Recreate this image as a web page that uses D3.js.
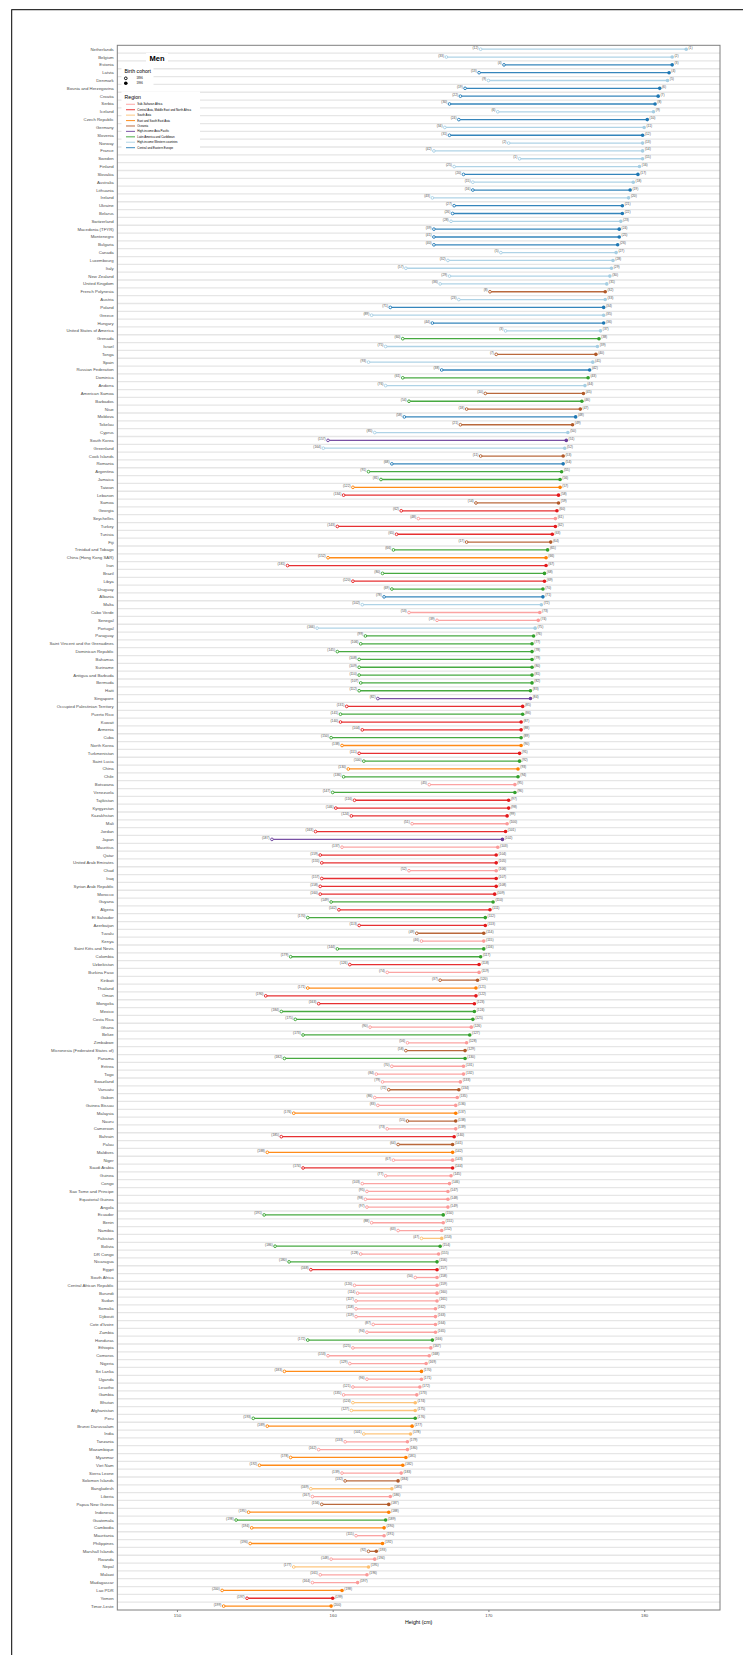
<!DOCTYPE html>
<html>
<head>
<meta charset="utf-8">
<script src="https://cdn.jsdelivr.net/npm/d3@7"></script>
<style>
  html, body { margin: 0; padding: 0; background: #fff; }
  svg { display: block; font-family: "Liberation Sans", Arial, sans-serif; }
</style>
</head>
<body>
<svg id="chart" width="743" height="1655"></svg>
<script>
// ---------- DATA ----------
const countries = [
"Netherlands","Belgium","Estonia","Latvia","Denmark","Bosnia and Herzegovina","Croatia","Serbia","Iceland","Czech Republic",
"Germany","Slovenia","Norway","France","Sweden","Finland","Slovakia","Australia","Lithuania","Ireland",
"Ukraine","Belarus","Switzerland","Macedonia (TFYR)","Montenegro","Bulgaria","Canada","Luxembourg","Italy","New Zealand",
"United Kingdom","French Polynesia","Austria","Poland","Greece","Hungary","United States of America","Grenada","Israel","Tonga",
"Spain","Russian Federation","Dominica","Andorra","American Samoa","Barbados","Niue","Moldova","Tokelau","Cyprus",
"South Korea","Greenland","Cook Islands","Romania","Argentina","Jamaica","Taiwan","Lebanon","Samoa","Georgia",
"Seychelles","Turkey","Tunisia","Fiji","Trinidad and Tobago","China (Hong Kong SAR)","Iran","Brazil","Libya","Uruguay",
"Albania","Malta","Cabo Verde","Senegal","Portugal","Paraguay","Saint Vincent and the Grenadines","Dominican Republic","Bahamas","Suriname",
"Antigua and Barbuda","Bermuda","Haiti","Singapore","Occupied Palestinian Territory","Puerto Rico","Kuwait","Armenia","Cuba","North Korea",
"Turkmenistan","Saint Lucia","China","Chile","Botswana","Venezuela","Tajikistan","Kyrgyzstan","Kazakhstan","Mali",
"Jordan","Japan","Mauritius","Qatar","United Arab Emirates","Chad","Iraq","Syrian Arab Republic","Morocco","Guyana",
"Algeria","El Salvador","Azerbaijan","Tuvalu","Kenya","Saint Kitts and Nevis","Colombia","Uzbekistan","Burkina Faso","Kiribati",
"Thailand","Oman","Mongolia","Mexico","Costa Rica","Ghana","Belize","Zimbabwe","Micronesia (Federated States of)","Panama",
"Eritrea","Togo","Swaziland","Vanuatu","Gabon","Guinea Bissau","Malaysia","Nauru","Cameroon","Bahrain",
"Palau","Maldives","Niger","Saudi Arabia","Guinea","Congo","Sao Tome and Principe","Equatorial Guinea","Angola","Ecuador",
"Benin","Namibia","Pakistan","Bolivia","DR Congo","Nicaragua","Egypt","South Africa","Central African Republic","Burundi",
"Sudan","Somalia","Djibouti","Cote d'Ivoire","Zambia","Honduras","Ethiopia","Comoros","Nigeria","Sri Lanka",
"Uganda","Lesotho","Gambia","Bhutan","Afghanistan","Peru","Brunei Darussalam","India","Tanzania","Mozambique",
"Myanmar","Viet Nam","Sierra Leone","Solomon Islands","Bangladesh","Liberia","Papua New Guinea","Indonesia","Guatemala","Cambodia",
"Mauritania","Philippines","Marshall Islands","Rwanda","Nepal","Malawi","Madagascar","Lao PDR","Yemen","Timor-Leste"
];

const regionOfCountry = [
"W","W","E","E","W","E","E","E","W","E",
"W","E","W","W","W","W","E","W","E","W",
"E","E","W","E","E","E","W","W","W","W",
"W","O","W","E","W","E","W","L","W","O",
"W","E","L","W","O","L","O","E","O","W",
"A","W","O","E","L","L","EA","M","O","M",
"S","M","M","O","L","EA","M","L","M","L",
"E","W","S","S","W","L","L","L","L","L",
"L","L","L","A","M","L","M","M","L","EA",
"M","L","EA","L","S","L","M","M","M","S",
"M","A","S","M","M","S","M","M","M","L",
"M","L","M","O","S","L","L","M","S","O",
"EA","M","M","L","L","S","L","S","O","L",
"S","S","S","O","S","S","EA","O","S","M",
"O","EA","S","M","S","S","S","S","S","L",
"S","S","SA","L","S","L","M","S","S","S",
"S","S","S","S","S","L","S","S","S","EA",
"S","S","S","SA","SA","L","EA","SA","S","S",
"EA","EA","S","O","SA","S","O","EA","L","EA",
"S","EA","O","S","SA","S","S","EA","M","EA"
];

// Height (cm), men born in 1896
const height1896 = [
169.5,167.3,171.0,169.4,170.0,168.5,168.2,167.5,170.6,168.1,
167.2,167.5,171.3,166.5,172.0,167.8,168.4,169.0,169.0,166.4,
167.8,167.7,167.6,166.5,166.5,166.5,170.8,167.4,164.7,167.5,
166.9,170.1,168.1,163.7,162.5,166.4,171.1,164.5,163.4,170.5,
162.3,167.0,164.5,163.4,169.8,164.9,168.6,164.6,168.2,162.7,
159.7,159.4,169.5,163.8,162.3,163.1,161.3,160.7,169.2,164.4,
165.5,160.3,164.1,168.6,163.9,159.7,157.1,163.2,161.3,163.8,
163.3,161.9,164.9,166.7,159.0,162.1,161.8,160.3,161.7,161.7,
161.7,161.8,161.7,162.9,160.9,160.5,160.5,161.9,159.9,160.6,
161.7,162.0,161.0,160.7,166.2,160.0,161.4,160.2,161.2,165.1,
158.9,156.1,160.6,159.2,159.3,164.9,159.3,159.2,159.2,159.9,
160.4,158.4,161.7,165.4,165.7,160.3,157.3,161.1,163.5,166.9,
158.4,155.7,159.1,156.7,157.6,162.4,158.1,164.8,164.7,156.9,
163.8,162.8,163.2,163.6,162.7,162.9,157.5,164.8,163.5,156.7,
164.2,155.8,163.9,158.1,163.4,161.9,162.2,162.1,162.2,155.6,
162.5,164.2,165.7,156.3,161.8,157.2,158.6,165.3,161.4,161.6,
161.5,161.5,161.5,162.6,162.2,158.4,161.3,159.7,161.1,156.9,
162.2,161.3,160.7,161.3,161.2,154.9,155.8,162.0,160.8,159.1,
157.3,155.3,160.6,160.8,158.6,158.7,159.3,154.6,153.8,154.8,
161.5,154.7,162.3,159.9,157.5,159.2,158.7,152.9,154.5,153.0
];

// Height (cm), men born in 1996
const height1996 = [
182.7,181.8,181.8,181.6,181.5,181.0,180.9,180.7,180.6,180.2,
180.0,179.9,179.9,179.9,179.9,179.7,179.6,179.3,179.1,179.0,
178.6,178.6,178.5,178.4,178.4,178.3,178.2,178.0,177.9,177.8,
177.6,177.5,177.5,177.4,177.4,177.4,177.2,177.1,177.0,176.9,
176.7,176.5,176.4,176.2,176.1,176.0,175.9,175.6,175.4,175.1,
175.0,174.9,174.8,174.8,174.7,174.6,174.6,174.5,174.5,174.4,
174.3,174.3,174.1,174.0,173.8,173.7,173.7,173.6,173.6,173.5,
173.5,173.4,173.3,173.2,173.0,172.9,172.8,172.8,172.8,172.8,
172.8,172.8,172.7,172.7,172.2,172.2,172.1,172.1,172.1,172.1,
172.0,172.0,171.9,171.9,171.7,171.7,171.3,171.3,171.2,171.2,
171.1,170.9,170.6,170.5,170.5,170.5,170.5,170.5,170.4,170.3,
170.1,169.8,169.8,169.7,169.7,169.7,169.5,169.4,169.4,169.3,
169.2,169.2,169.1,169.1,169.0,168.9,168.8,168.6,168.5,168.5,
168.4,168.4,168.2,168.1,168.0,167.9,167.9,167.9,167.9,167.8,
167.7,167.7,167.7,167.7,167.6,167.5,167.4,167.4,167.4,167.1,
167.1,167.0,167.0,166.9,166.8,166.7,166.7,166.7,166.7,166.7,
166.7,166.6,166.6,166.6,166.6,166.4,166.3,166.2,166.0,165.7,
165.7,165.6,165.4,165.3,165.3,165.3,165.1,165.0,164.8,164.8,
164.7,164.5,164.4,164.2,163.8,163.7,163.6,163.6,163.4,163.3,
163.3,163.2,162.8,162.7,162.3,162.2,161.6,160.6,160.0,159.9
];

// Rank labels shown next to the 1896 points
const rank1896 = [
12,33,4,13,9,19,22,30,6,24,
34,31,2,42,1,25,20,15,16,43,
27,26,28,39,41,40,5,32,57,29,
36,8,23,71,89,44,3,60,75,7,
93,38,61,76,10,54,18,58,21,85,
157,164,11,68,91,81,122,134,14,62,
48,143,65,17,66,152,181,80,120,69,
78,102,53,39,166,99,106,145,108,109,
110,107,112,82,131,141,140,104,150,138,
111,100,130,136,45,147,116,146,124,51,
163,187,137,159,155,52,157,158,160,149,
142,170,113,49,46,144,179,126,74,37,
171,190,163,184,175,90,173,56,58,182,
70,84,79,72,86,83,176,55,73,185,
64,188,67,174,77,103,95,98,97,191,
88,63,47,186,128,180,168,50,120,114,
117,118,119,87,94,172,125,153,129,183,
96,121,135,124,127,193,189,101,133,162,
178,192,139,132,169,167,156,195,198,194,
115,196,92,148,177,161,164,200,197,199
];
// Rank labels shown next to the 1996 points (row order)
const rank1996 = countries.map((c, i) => i + 1);

const regionCodes = ["S","M","SA","EA","O","A","L","W","E"];
const regionNames = [
"Sub-Saharan Africa",
"Central Asia, Middle East and North Africa",
"South Asia",
"East and South East Asia",
"Oceania",
"High-income Asia Pacific",
"Latin America and Caribbean",
"High-income Western countries",
"Central and Eastern Europe"
];
const regionColors = ["#fb9a99","#e31a1c","#fdbf6f","#ff7f00","#b15928","#6a3d9a","#33a02c","#a6cee3","#1f78b4"];
const xTicks = [150, 160, 170, 180];
const cohorts = ["1896", "1996"];

// ---------- DRAW ----------
const rows = countries.map((c, i) => ({
  country: c, region: regionOfCountry[i],
  h1896: height1896[i], h1996: height1996[i],
  r1896: rank1896[i], r1996: rank1996[i]
}));

const svg = d3.select("#chart");
const plot = { left: 117.3, right: 720, top: 45.3, bottom: 1610 };

const color = d3.scaleOrdinal().domain(regionCodes).range(regionColors);
const x = d3.scaleLinear().domain([146.17, 184.87]).range([plot.left, plot.right]);
const y = d3.scaleBand().domain(countries).range([plot.top, plot.bottom]).padding(0);
const yc = c => y(c) + y.bandwidth() / 2;

// outer frame (top + left visible)
svg.append("rect").attr("x", 11.7).attr("y", 9.7).attr("width", 800).attr("height", 1700)
  .attr("fill", "none").attr("stroke", "#000").attr("stroke-width", 1);

// panel background
svg.append("rect").attr("x", plot.left).attr("y", plot.top)
  .attr("width", plot.right - plot.left).attr("height", plot.bottom - plot.top)
  .attr("fill", "#fff");

// row separators
svg.append("g").selectAll("line").data(countries.slice(1)).join("line")
  .attr("x1", plot.left).attr("x2", plot.right)
  .attr("y1", d => y(d)).attr("y2", d => y(d))
  .attr("stroke", "#e6e6e6").attr("stroke-width", 1.3);

// dumbbell lines
svg.append("g").selectAll("line").data(rows).join("line")
  .attr("x1", d => x(d.h1896)).attr("x2", d => x(d.h1996))
  .attr("y1", d => yc(d.country)).attr("y2", d => yc(d.country))
  .attr("stroke", d => color(d.region)).attr("stroke-width", 1.3).attr("stroke-opacity", 0.9);

// 1896 open circles
svg.append("g").selectAll("circle").data(rows).join("circle")
  .attr("cx", d => x(d.h1896)).attr("cy", d => yc(d.country)).attr("r", 1.35)
  .attr("fill", "#fff").attr("stroke", d => color(d.region)).attr("stroke-width", 0.9);

// 1996 filled circles
svg.append("g").selectAll("circle").data(rows).join("circle")
  .attr("cx", d => x(d.h1996)).attr("cy", d => yc(d.country)).attr("r", 1.8)
  .attr("fill", d => color(d.region));

// rank labels
const lab = svg.append("g").attr("font-size", 3.3).attr("fill", "#4d4d4d");
lab.selectAll("text.l").data(rows).join("text").attr("class", "l")
  .attr("x", d => x(d.h1896) - 2.3).attr("y", d => yc(d.country) - 0.5)
  .attr("text-anchor", "end").text(d => "(" + d.r1896 + ")");
lab.selectAll("text.r").data(rows).join("text").attr("class", "r")
  .attr("x", d => x(d.h1996) + 2.3).attr("y", d => yc(d.country) - 0.5)
  .attr("text-anchor", "start").text(d => "(" + d.r1996 + ")");

// y axis labels
svg.append("g").attr("font-size", 4.3).attr("fill", "#4d4d4d")
  .selectAll("text").data(countries).join("text")
  .attr("x", 113.7).attr("y", d => yc(d) + 1.5).attr("text-anchor", "end").text(d => d);

// x axis
const xAxis = svg.append("g").attr("transform", `translate(0,${plot.bottom})`)
  .call(d3.axisBottom(x).tickValues(xTicks).tickSize(2).tickPadding(1.5).tickFormat(d3.format("d")));
xAxis.select(".domain").remove();
xAxis.selectAll(".tick line").attr("stroke", "#333").attr("stroke-width", 0.6);
xAxis.selectAll(".tick text").attr("font-size", 4.3).attr("fill", "#4d4d4d")
  .attr("font-family", "Liberation Sans, Arial, sans-serif");

svg.append("text").attr("x", (plot.left + plot.right) / 2).attr("y", 1624.3)
  .attr("text-anchor", "middle").attr("font-size", 5.3).attr("fill", "#000").text("Height (cm)");

// panel border
svg.append("rect").attr("x", plot.left).attr("y", plot.top)
  .attr("width", plot.right - plot.left).attr("height", plot.bottom - plot.top)
  .attr("fill", "none").attr("stroke", "#7f7f7f").attr("stroke-width", 1);

// ---------- LEGEND ----------
const lg = svg.append("g");
lg.append("rect").attr("x", 146).attr("y", 53).attr("width", 22).attr("height", 10).attr("fill", "#fff");
lg.append("text").attr("x", 157).attr("y", 61).attr("text-anchor", "middle")
  .attr("font-size", 7.5).attr("font-weight", "bold").attr("fill", "#000").text("Men");

lg.append("rect").attr("x", 121.5).attr("y", 65).attr("width", 32).attr("height", 23).attr("fill", "#fff");
lg.append("text").attr("x", 124.5).attr("y", 73.4).attr("font-size", 5.2).attr("fill", "#000").text("Birth cohort");
const ck = lg.selectAll("g.ck").data(cohorts).join("g").attr("class", "ck")
  .attr("transform", (d, i) => `translate(0,${78.3 + i * 5})`);
ck.append("circle").attr("cx", 125.8).attr("cy", 0).attr("r", d => d === "1896" ? 1.35 : 1.8)
  .attr("fill", d => d === "1896" ? "#fff" : "#000").attr("stroke", "#000")
  .attr("stroke-width", d => d === "1896" ? 0.9 : 0);
ck.append("text").attr("x", 136.5).attr("y", 0.9).attr("font-size", 2.8).attr("fill", "#000").text(d => d);

lg.append("rect").attr("x", 121.5).attr("y", 91.5).attr("width", 78.5).attr("height", 60).attr("fill", "#fff");
lg.append("text").attr("x", 124.5).attr("y", 99.1).attr("font-size", 5.2).attr("fill", "#000").text("Region");
const rk = lg.selectAll("g.rk").data(regionCodes).join("g").attr("class", "rk")
  .attr("transform", (d, i) => `translate(0,${104.3 + i * 5.42})`);
rk.append("line").attr("x1", 126).attr("x2", 135).attr("y1", 0).attr("y2", 0)
  .attr("stroke", d => color(d)).attr("stroke-width", 1.1).attr("stroke-opacity", 0.8);
rk.append("text").attr("x", 137.3).attr("y", 1).attr("font-size", 2.9).attr("fill", "#000")
  .text((d, i) => regionNames[i]);
</script>
</body>
</html>
